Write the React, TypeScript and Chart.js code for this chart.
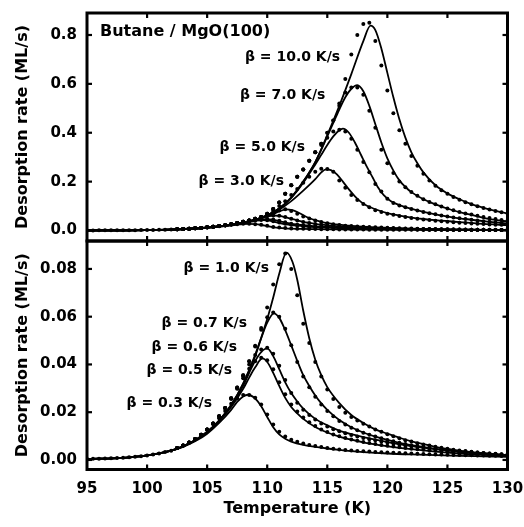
import React, { useEffect, useRef } from 'react';
import { Chart, registerables } from 'chart.js';
Chart.register(...registerables);

const FONT = '"DejaVu Sans", "Liberation Sans", Arial, sans-serif';

const X_TICKS = [95, 100, 105, 110, 115, 120, 125, 130];
const UPPER_Y_TICKS = [0, 0.2, 0.4, 0.6, 0.8];
const LOWER_Y_TICKS = [0, 0.02, 0.04, 0.06, 0.08];

// baseline experimental points (all heating rates overlap here)
const BASE_T = [95, 95.5, 96, 96.5, 97, 97.5, 98, 98.5, 99, 99.5, 100, 100.5, 101, 101.5, 102];
const BASE_RATE = [0.0004, 0.00045, 0.0005, 0.0006, 0.0007, 0.0008, 0.0009, 0.0011, 0.0013, 0.0016, 0.0019, 0.0023, 0.0027, 0.0033, 0.0039];

// experimental points: temperature grid
const DOT_T = [102.5, 103, 103.5, 104, 104.5, 105, 105.5, 106, 106.5, 107, 107.5, 108, 108.5, 109, 109.5, 110, 110.5, 111, 111.5, 112, 112.5, 113, 113.5, 114, 114.5, 115, 115.5, 116, 116.5, 117, 117.5, 118, 118.5, 119, 119.5, 120, 120.5, 121, 121.5, 122, 122.5, 123, 123.5, 124, 124.5, 125, 125.5, 126, 126.5, 127, 127.5, 128, 128.5, 129, 129.5, 130];

const DOTS_B10 = [0.005, 0.006, 0.0073, 0.0088, 0.0106, 0.0128, 0.0153, 0.0183, 0.0218, 0.0258, 0.0303, 0.0355, 0.0413, 0.0478, 0.0553,
  0.068, 0.088, 0.115, 0.15, 0.185, 0.22, 0.25, 0.285, 0.32, 0.355, 0.4, 0.45, 0.52, 0.62, 0.72, 0.8, 0.845,
  0.85, 0.775, 0.675, 0.573, 0.48, 0.41, 0.355, 0.305, 0.265, 0.232, 0.205, 0.183, 0.165, 0.15, 0.137, 0.126, 0.116, 0.107, 0.099, 0.092, 0.086, 0.08, 0.075, 0.07];
const DOTS_B7 = [0.005, 0.006, 0.0073, 0.0088, 0.0106, 0.0128, 0.0153, 0.0183, 0.0218, 0.0258, 0.0303, 0.0355, 0.0413, 0.0478, 0.0553,
  0.068, 0.088, 0.115, 0.15, 0.185, 0.22, 0.25, 0.285, 0.32, 0.355, 0.4, 0.45,
  0.51, 0.565, 0.585, 0.585, 0.555, 0.49, 0.42, 0.33, 0.275, 0.235, 0.2, 0.177, 0.158, 0.142, 0.128, 0.117, 0.107, 0.098, 0.09, 0.083, 0.076, 0.07, 0.065, 0.06, 0.055, 0.051, 0.047, 0.043, 0.04];
const DOTS_B5 = [0.005, 0.006, 0.0073, 0.0088, 0.0106, 0.0128, 0.0153, 0.0183, 0.0218, 0.0258, 0.0303, 0.0355, 0.0413, 0.0478, 0.0553,
  0.068, 0.088, 0.115, 0.15, 0.185, 0.22, 0.25, 0.285, 0.32, 0.35,
  0.38, 0.405, 0.412, 0.405, 0.375, 0.33, 0.28, 0.238, 0.19, 0.16, 0.13, 0.113, 0.102, 0.095, 0.088, 0.082, 0.076, 0.071, 0.066, 0.061, 0.057, 0.053, 0.05, 0.047, 0.044, 0.041, 0.038, 0.036, 0.033, 0.031, 0.029];
const DOTS_B3 = [0.005, 0.006, 0.0073, 0.0088, 0.0106, 0.0128, 0.0153, 0.0183, 0.0218, 0.0258, 0.0303, 0.0355, 0.0413, 0.0478, 0.0553,
  0.065, 0.08, 0.1, 0.12, 0.145, 0.17, 0.195, 0.22, 0.24, 0.253,
  0.252, 0.24, 0.205, 0.175, 0.145, 0.125, 0.108, 0.095, 0.083, 0.076, 0.069, 0.064, 0.059, 0.055, 0.051, 0.048, 0.045, 0.043, 0.04, 0.038, 0.036, 0.034, 0.032, 0.031, 0.029, 0.028, 0.027, 0.025, 0.024, 0.023, 0.022];
const DOTS_B1 = [0.005, 0.006, 0.0073, 0.0088, 0.0106, 0.0128, 0.0153, 0.0183, 0.0218, 0.0258, 0.0303, 0.0355, 0.0413, 0.0478, 0.0553,
  0.0638, 0.0735, 0.082, 0.0865, 0.08, 0.069, 0.057, 0.049, 0.041, 0.035, 0.0295, 0.0255, 0.0222, 0.0198,
  0.018, 0.0165, 0.0152, 0.014, 0.0128, 0.0118, 0.0108, 0.0099, 0.0091, 0.0083, 0.0077, 0.007, 0.0065, 0.006, 0.0055, 0.0051, 0.0047, 0.0043, 0.004, 0.0037, 0.0034, 0.0031, 0.0029, 0.0027, 0.0025, 0.0023, 0.0021];
const DOTS_B07 = [0.005, 0.006, 0.0073, 0.0088, 0.0106, 0.0128, 0.0153, 0.0183, 0.0218, 0.0258, 0.0303, 0.0355, 0.0413, 0.0475, 0.0545,
  0.0598, 0.0618, 0.06, 0.055, 0.048, 0.041, 0.035, 0.0305, 0.0265, 0.0232, 0.0205, 0.0183, 0.0163, 0.0148,
  0.0135, 0.0124, 0.0114, 0.0106, 0.0098, 0.0091, 0.0084, 0.0078, 0.0072, 0.0067, 0.0062, 0.0058, 0.0054, 0.005, 0.0046, 0.0043, 0.004, 0.0037, 0.0034, 0.0032, 0.003, 0.0028, 0.0026, 0.0024, 0.0022, 0.002, 0.0019];
const DOTS_B06 = [0.005, 0.006, 0.0073, 0.0088, 0.0106, 0.0128, 0.0153, 0.0183, 0.0218, 0.0258, 0.03,
  0.035, 0.04, 0.044, 0.0463,
  0.047, 0.0445, 0.0395, 0.0335, 0.028, 0.024, 0.021, 0.0188, 0.0169, 0.0153, 0.014, 0.0129, 0.012, 0.0112,
  0.0104, 0.0098, 0.0092, 0.0087, 0.0082, 0.0077, 0.0073, 0.0069, 0.0065, 0.0061, 0.0058, 0.0055, 0.0052, 0.0049, 0.0046, 0.0044, 0.0041, 0.0039, 0.0037, 0.0035, 0.0033, 0.0031, 0.0029, 0.0027, 0.0026, 0.0024, 0.0023];
const DOTS_B05 = [0.005, 0.006, 0.0073, 0.0088, 0.0106, 0.0128, 0.0153, 0.0183, 0.0218, 0.0255,
  0.0298, 0.0342, 0.0382, 0.0413, 0.0428,
  0.0418, 0.038, 0.0325, 0.0275, 0.0232, 0.0203, 0.0178, 0.0158, 0.0142, 0.0128, 0.0117, 0.0107, 0.0099, 0.0092,
  0.0086, 0.008, 0.0075, 0.0071, 0.0067, 0.0063, 0.0059, 0.0056, 0.0053, 0.005, 0.0047, 0.0045, 0.0043, 0.0041, 0.0039, 0.0037, 0.0035, 0.0033, 0.0031, 0.003, 0.0028, 0.0027, 0.0026, 0.0025, 0.0024, 0.0023, 0.0022];
const DOTS_B03 = [0.005, 0.006, 0.0073, 0.0088, 0.0106, 0.0127, 0.015,
  0.0175, 0.0205, 0.0235, 0.0258, 0.0272, 0.0272, 0.026, 0.0232,
  0.019, 0.0148, 0.0118, 0.0098, 0.0085, 0.0076, 0.0069, 0.0063, 0.0058, 0.0054, 0.005, 0.0047, 0.0044, 0.0042,
  0.004, 0.0038, 0.0036, 0.0035, 0.0033, 0.0032, 0.0031, 0.003, 0.0029, 0.0028, 0.0027, 0.0026, 0.0025, 0.0024, 0.0023, 0.0023, 0.0022, 0.0021, 0.0021, 0.002, 0.002, 0.0019, 0.0019, 0.0018, 0.0018, 0.0017, 0.0017];

// fitted curves: [temperature, rate]
const FIT_B10 = [[95, 0.0004], [98, 0.0009], [100, 0.0019], [102, 0.0039], [104, 0.0082], [106, 0.0165], [108, 0.032], [109, 0.044], [110, 0.062], [111, 0.09], [112, 0.135], [113, 0.2], [114, 0.28], [115, 0.39], [116, 0.51], [117, 0.64], [118, 0.775], [118.6, 0.838], [119, 0.82], [119.5, 0.745], [120, 0.645], [120.5, 0.545], [121, 0.455], [121.5, 0.38], [122, 0.32], [122.5, 0.275], [123, 0.238], [124, 0.185], [125, 0.152], [126, 0.128], [127, 0.108], [128, 0.093], [129, 0.08], [130, 0.07]];
const FIT_B7 = [[95, 0.0004], [98, 0.0009], [100, 0.0019], [102, 0.0039], [104, 0.0082], [106, 0.0165], [108, 0.032], [109, 0.044], [110, 0.062], [111, 0.09], [112, 0.135], [113, 0.2], [114, 0.28], [115, 0.385], [115.5, 0.44], [116, 0.495], [116.5, 0.545], [117, 0.58], [117.5, 0.595], [118, 0.57], [118.5, 0.51], [119, 0.435], [119.5, 0.36], [120, 0.295], [120.5, 0.245], [121, 0.205], [121.5, 0.178], [122, 0.157], [123, 0.128], [124, 0.107], [125, 0.09], [126, 0.075], [127, 0.064], [128, 0.052], [129, 0.043], [130, 0.037]];
const FIT_B5 = [[95, 0.0004], [98, 0.0009], [100, 0.0019], [102, 0.0039], [104, 0.0082], [106, 0.0165], [108, 0.032], [109, 0.044], [110, 0.062], [111, 0.09], [112, 0.133], [113, 0.195], [114, 0.27], [114.5, 0.31], [115, 0.35], [115.5, 0.385], [116, 0.41], [116.3, 0.417], [116.8, 0.4], [117.3, 0.36], [117.8, 0.31], [118.3, 0.26], [118.8, 0.215], [119.2, 0.178], [119.7, 0.145], [120.3, 0.12], [121, 0.104], [122, 0.088], [123, 0.076], [124, 0.066], [125, 0.057], [126, 0.05], [127, 0.044], [128, 0.038], [129, 0.033], [130, 0.029]];
const FIT_B3 = [[95, 0.0004], [98, 0.0009], [100, 0.0019], [102, 0.0039], [104, 0.0082], [106, 0.0165], [108, 0.032], [109, 0.044], [110, 0.06], [111, 0.085], [112, 0.12], [113, 0.163], [114, 0.21], [114.5, 0.238], [114.9, 0.25], [115.3, 0.247], [115.8, 0.23], [116.3, 0.2], [116.8, 0.168], [117.3, 0.14], [117.8, 0.117], [118.3, 0.101], [119, 0.087], [120, 0.071], [121, 0.061], [122, 0.053], [123, 0.047], [124, 0.042], [126, 0.034], [128, 0.027], [130, 0.022]];
const FIT_B1 = [[95, 0.0004], [98, 0.0009], [100, 0.0019], [102, 0.0039], [103, 0.0057], [104, 0.0082], [105, 0.0117], [106, 0.0165], [107, 0.023], [108, 0.032], [109, 0.044], [110, 0.059], [110.5, 0.068], [111, 0.078], [111.6, 0.0868], [112.1, 0.083], [112.5, 0.0755], [113, 0.0625], [113.5, 0.051], [114, 0.042], [114.5, 0.0355], [115, 0.0305], [116, 0.0238], [117, 0.0188], [118, 0.0155], [119, 0.0128], [120, 0.011], [121, 0.0093], [122, 0.0078], [123, 0.0066], [124, 0.0055], [125, 0.0046], [126, 0.0039], [127, 0.0033], [128, 0.0028], [129, 0.0024], [130, 0.002]];
const FIT_B07 = [[95, 0.0004], [98, 0.0009], [100, 0.0019], [102, 0.0039], [103, 0.0057], [104, 0.0082], [105, 0.0117], [106, 0.0165], [107, 0.023], [108, 0.032], [109, 0.0435], [109.5, 0.051], [110, 0.0575], [110.55, 0.0614], [111, 0.0595], [111.4, 0.0555], [112, 0.048], [112.5, 0.0415], [113, 0.0355], [113.5, 0.031], [114, 0.027], [114.5, 0.0237], [115, 0.021], [116, 0.0167], [117, 0.0137], [118, 0.0115], [119, 0.0098], [120, 0.0084], [121, 0.0072], [122, 0.0062], [123, 0.0054], [124, 0.0046], [125, 0.004], [126, 0.0034], [127, 0.003], [128, 0.0026], [129, 0.0022], [130, 0.0019]];
const FIT_B06 = [[95, 0.0004], [98, 0.0009], [100, 0.0019], [102, 0.0039], [103, 0.0057], [104, 0.0082], [105, 0.0117], [106, 0.0165], [107, 0.0228], [108, 0.031], [108.5, 0.0365], [109, 0.0415], [109.5, 0.0452], [110, 0.0467], [110.5, 0.0435], [111, 0.038], [111.5, 0.0325], [112, 0.028], [112.5, 0.0245], [113, 0.0215], [114, 0.0172], [115, 0.0145], [116, 0.0123], [117, 0.0108], [118, 0.0096], [119, 0.0085], [120, 0.0075], [122, 0.0058], [124, 0.0045], [126, 0.0035], [128, 0.0027], [130, 0.002]];
const FIT_B05 = [[95, 0.0004], [98, 0.0009], [100, 0.0019], [102, 0.0039], [103, 0.0057], [104, 0.0082], [105, 0.0117], [106, 0.0163], [107, 0.0222], [108, 0.0298], [108.5, 0.0345], [109, 0.0388], [109.6, 0.0425], [110, 0.041], [110.5, 0.0365], [111, 0.031], [111.5, 0.026], [112, 0.0222], [112.5, 0.0195], [113, 0.0172], [114, 0.0138], [115, 0.0115], [116, 0.0098], [117, 0.0085], [118, 0.0074], [119, 0.0065], [120, 0.0057], [122, 0.0045], [124, 0.0035], [126, 0.0027], [128, 0.0021], [130, 0.0016]];
const FIT_B03 = [[95, 0.0004], [98, 0.0009], [100, 0.0019], [102, 0.0039], [103, 0.0055], [104, 0.0078], [105, 0.011], [106, 0.0155], [107, 0.021], [107.5, 0.0243], [108, 0.0266], [108.4, 0.0273], [109, 0.0257], [109.5, 0.0225], [110, 0.018], [110.5, 0.0137], [111, 0.0107], [111.5, 0.0089], [112, 0.0077], [113, 0.0063], [114, 0.0055], [115, 0.0048], [116, 0.0042], [117, 0.0037], [118, 0.0033], [120, 0.0027], [122, 0.0023], [124, 0.002], [126, 0.0017], [128, 0.0015], [130, 0.0013]];

// text labels: [text, temperature (right end), rate]
const UPPER_LABELS: [string, number, number][] = [
  ['β = 10.0 K/s', 116.07, 0.71],
  ['β = 7.0 K/s', 114.84, 0.554],
  ['β = 5.0 K/s', 113.15, 0.342],
  ['β = 3.0 K/s', 111.4, 0.203],
];
const LOWER_LABELS: [string, number, number][] = [
  ['β = 1.0 K/s', 110.15, 0.0804],
  ['β = 0.7 K/s', 108.32, 0.057],
  ['β = 0.6 K/s', 107.49, 0.0473],
  ['β = 0.5 K/s', 107.07, 0.0377],
  ['β = 0.3 K/s', 105.41, 0.0235],
];
const TITLE_TEXT = 'Butane / MgO(100)';

const UPPER_FITS = [FIT_B10, FIT_B7, FIT_B5, FIT_B3, FIT_B1, FIT_B07, FIT_B06, FIT_B05, FIT_B03];
const UPPER_DOTS = [DOTS_B10, DOTS_B7, DOTS_B5, DOTS_B3, DOTS_B1, DOTS_B07, DOTS_B06, DOTS_B05, DOTS_B03];
const LOWER_FITS = [FIT_B1, FIT_B07, FIT_B06, FIT_B05, FIT_B03];
const LOWER_DOTS = [DOTS_B1, DOTS_B07, DOTS_B06, DOTS_B05, DOTS_B03];

function lineDs(pts: number[][]) {
  return {
    data: pts.map(([x, y]) => ({ x, y })),
    showLine: true,
    borderColor: '#000',
    borderWidth: 1.8,
    pointRadius: 0,
    cubicInterpolationMode: 'monotone',
    fill: false,
  };
}
function dotDs(ts: number[], vals: number[]) {
  return {
    data: vals.map((y, i) => ({ x: ts[i], y })),
    showLine: false,
    pointRadius: 2,
    pointBackgroundColor: '#000',
    pointBorderWidth: 0,
    pointBorderColor: '#000',
  };
}

function framePlugin(yTicks: number[], labels: [string, number, number][], withTitle: boolean) {
  return {
    id: 'frameAndLabels',
    afterDraw(chart: any) {
      const { ctx, chartArea: a, scales } = chart;
      ctx.save();
      ctx.strokeStyle = '#000';
      ctx.lineWidth = 3;
      ctx.strokeRect(a.left, a.top, a.right - a.left, a.bottom - a.top);
      ctx.lineWidth = 2.2;
      const seg = (x1: number, y1: number, x2: number, y2: number) => {
        ctx.beginPath();
        ctx.moveTo(x1, y1);
        ctx.lineTo(x2, y2);
        ctx.stroke();
      };
      X_TICKS.slice(1, -1).forEach((t) => {
        const x = scales.x.getPixelForValue(t);
        seg(x, a.top, x, a.top + 5);
        seg(x, a.bottom, x, a.bottom - 5);
      });
      yTicks.forEach((v) => {
        const y = scales.y.getPixelForValue(v);
        if (y > a.top + 4 && y < a.bottom - 4) {
          seg(a.left, y, a.left + 5, y);
          seg(a.right, y, a.right - 5, y);
        }
      });
      ctx.fillStyle = '#000';
      ctx.textBaseline = 'middle';
      ctx.textAlign = 'right';
      ctx.font = 'bold 14px ' + FONT;
      labels.forEach(([text, t, v]) => {
        ctx.fillText(text, scales.x.getPixelForValue(t), scales.y.getPixelForValue(v));
      });
      if (withTitle) {
        ctx.textAlign = 'left';
        ctx.font = 'bold 16px ' + FONT;
        ctx.fillText(TITLE_TEXT, scales.x.getPixelForValue(96.08), scales.y.getPixelForValue(0.812));
      }
      ctx.restore();
    },
  };
}

function yScale(min: number, max: number, ticks: number[], digits: number) {
  return {
    type: 'linear',
    min,
    max,
    afterBuildTicks: (s: any) => {
      s.ticks = ticks.map((value) => ({ value }));
    },
    afterFit: (s: any) => {
      s.width = 87;
      s.paddingTop = 0;
      s.paddingBottom = 0;
    },
    grid: { display: false, drawTicks: false },
    border: { display: false },
    ticks: {
      color: '#000',
      padding: 10,
      font: { family: FONT, size: 15, weight: 'bold' },
      callback: (v: any) => Number(v).toFixed(digits),
    },
    title: {
      display: true,
      text: 'Desorption rate (ML/s)',
      color: '#000',
      font: { family: FONT, size: 16, weight: 'bold' },
      padding: { top: 13, bottom: 0 },
    },
  };
}

export default function App() {
  const upRef = useRef<HTMLCanvasElement>(null);
  const lowRef = useRef<HTMLCanvasElement>(null);

  useEffect(() => {
    const common = {
      responsive: false,
      animation: false,
      events: [],
      plugins: { legend: { display: false }, tooltip: { enabled: false } },
    };
    const upper = new Chart(upRef.current as HTMLCanvasElement, {
      type: 'scatter',
      data: {
        datasets: [
          ...UPPER_FITS.map((f) => lineDs(f)),
          ...UPPER_DOTS.map((d) => dotDs(DOT_T, d)),
          dotDs(BASE_T, BASE_RATE),
        ] as any,
      },
      options: {
        ...common,
        layout: { padding: { top: 13, bottom: 4, left: 0, right: 16.5 } },
        scales: {
          x: {
            type: 'linear',
            min: 95,
            max: 130,
            display: false,
            afterFit: (s: any) => {
              s.paddingLeft = 0;
              s.paddingRight = 0;
            },
          },
          y: yScale(-0.043, 0.89, UPPER_Y_TICKS, 1),
        },
      } as any,
      plugins: [framePlugin(UPPER_Y_TICKS, UPPER_LABELS, true)],
    });
    const lower = new Chart(lowRef.current as HTMLCanvasElement, {
      type: 'scatter',
      data: {
        datasets: [
          ...LOWER_FITS.map((f) => lineDs(f)),
          ...LOWER_DOTS.map((d) => dotDs(DOT_T, d)),
          dotDs(BASE_T, BASE_RATE),
        ] as any,
      },
      options: {
        ...common,
        layout: { padding: { top: 4, bottom: 0, left: 0, right: 16.5 } },
        scales: {
          x: {
            type: 'linear',
            min: 95,
            max: 130,
            afterBuildTicks: (s: any) => {
              s.ticks = X_TICKS.map((value) => ({ value }));
            },
            afterFit: (s: any) => {
              s.height = 57.5;
              s.paddingLeft = 0;
              s.paddingRight = 0;
            },
            grid: { display: false, drawTicks: false },
            border: { display: false },
            ticks: {
              color: '#000',
              padding: 11,
              maxRotation: 0,
              font: { family: FONT, size: 15, weight: 'bold' },
              callback: (v: any) => String(v),
            },
            title: {
              display: true,
              text: 'Temperature (K)',
              color: '#000',
              font: { family: FONT, size: 16, weight: 'bold' },
              padding: { top: 0, bottom: 9 },
            },
          },
          y: yScale(-0.004, 0.0917, LOWER_Y_TICKS, 2),
        },
      } as any,
      plugins: [framePlugin(LOWER_Y_TICKS, LOWER_LABELS, false)],
    });
    return () => {
      upper.destroy();
      lower.destroy();
    };
  }, []);

  return (
    <div style={{ position: 'absolute', left: 0, top: 0, width: 524, height: 527, background: '#fff' }}>
      <canvas ref={upRef} width={524} height={245} style={{ position: 'absolute', left: 0, top: 0, display: 'block' }} />
      <canvas ref={lowRef} width={524} height={290} style={{ position: 'absolute', left: 0, top: 237, display: 'block' }} />
    </div>
  );
}
